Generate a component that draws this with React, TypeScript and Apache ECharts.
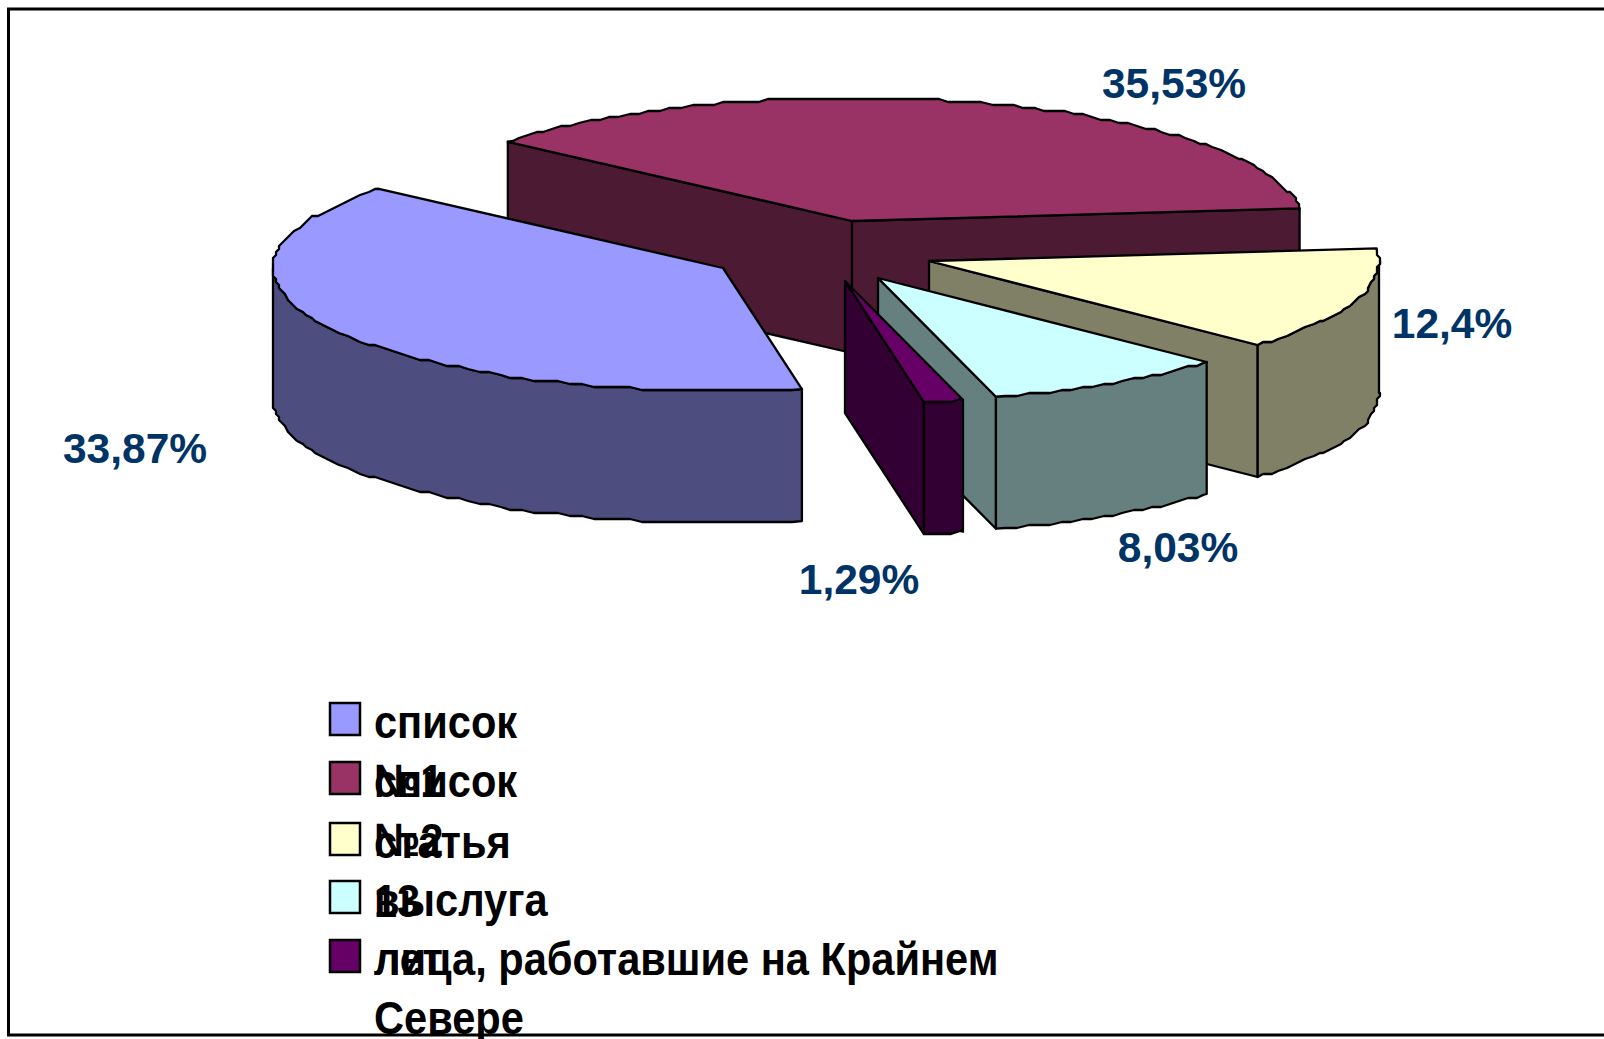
import React, { useEffect, useRef } from "react";
import * as echarts from "echarts";

const categories = ["список №1", "список №2", "статья 13", "выслуга лет", "лица, работавшие на Крайнем Севере"];
const values = [33.87, 35.53, 12.4, 8.03, 1.29];

const topColors = ["#9999FF", "#993366", "#FFFFCC", "#CCFFFF", "#660066"];
const sideColors = ["#4D4D80", "#4D1A33", "#808066", "#668080", "#330033"];
const apexes = [[723, 268], [852, 221], [929, 261], [878, 278], [845, 281]];
const labelAt = [[135, 448], [1174, 83], [1452, 323], [1178, 547], [859, 579]];
const drawRank = [4, 0, 1, 2, 3];
const RX = 450, RY = 123, DEPTH = 132, START = 169.9, GRID = 3, STEP = 1.5;
const total = values.reduce((a, b) => a + b, 0);

const firstBoundary = START + ((values[0] + values[1]) / total) * 360;
const warp = (deg: number) => {
  if (deg <= START || deg >= firstBoundary) return deg;
  return deg + 6.4 * Math.sin((Math.PI * (deg - START)) / (firstBoundary - START));
};
const unwarp = (target: number) => {
  let lo = target - 10, hi = target + 10;
  for (let i = 0; i < 40; i++) {
    const m = (lo + hi) / 2;
    if (warp(m) < target) lo = m;
    else hi = m;
  }
  return (lo + hi) / 2;
};
const pt = (c: number[], deg: number, dy = 0) => {
  const r = (warp(deg) * Math.PI) / 180;
  return [c[0] + RX * Math.sin(r), c[1] - RY * Math.cos(r) + dy];
};
// The reference's curved edges are visibly bumpy, so inner arc points snap to a coarse grid.
// Samples sit on fixed angles, so a slice's top face and its outer wall share their vertices.
const arc = (c: number[], a: number, b: number, dy = 0) => {
  const out: number[][] = [pt(c, a, dy)];
  for (let k = Math.floor(a / STEP) + 1; k * STEP < b; k++) {
    const p = pt(c, k * STEP, dy);
    out.push([Math.round(p[0] / GRID) * GRID, Math.round((p[1] - dy) / GRID) * GRID + dy]);
  }
  out.push(pt(c, b, dy));
  return out;
};

const renderItem = (params: any, api: any) => {
  const i = params.dataIndex;
  const v = api.value(0);
  let a = START;
  for (let k = 0; k < i; k++) a += (values[k] / total) * 360;
  const b = a + (v / total) * 360;
  const c = apexes[i];
  const base = drawRank[i] * 10;
  const stroke = { stroke: "#000", lineWidth: 2.3, lineJoin: "round" };
  const side = { ...stroke, fill: sideColors[i] };
  const children: any[] = [];
  const wall = (deg: number, z: number) => {
    const e = pt(c, deg);
    children.push({
      type: "polygon",
      z2: base + z,
      shape: { points: [c, e, [e[0], e[1] + DEPTH], [c[0], c[1] + DEPTH]] },
      style: side,
    });
  };
  if (Math.sin((a * Math.PI) / 180) < 0) wall(a, 1);
  if (Math.sin((b * Math.PI) / 180) > 0) wall(b, 1);
  for (const [lo, hi] of [[90, 270], [450, 630]]) {
    const s = Math.max(a, unwarp(lo)), e = Math.min(b, unwarp(hi));
    if (s < e) {
      children.push({
        type: "polygon",
        z2: base + 2,
        shape: { points: [...arc(c, s, e), ...arc(c, s, e, DEPTH).reverse()] },
        style: side,
      });
    }
  }
  children.push({
    type: "polygon",
    z2: base + 3,
    shape: { points: [c, ...arc(c, a, b)] },
    style: { ...stroke, fill: topColors[i] },
  });
  children.push({
    type: "text",
    z2: 100,
    x: labelAt[i][0],
    y: labelAt[i][1],
    style: {
      text: String(v).replace(".", ",") + "%",
      font: 'bold 42.5px "Liberation Sans", Arial, sans-serif',
      fill: "#003366",
      textAlign: "center",
      textVerticalAlign: "middle",
    },
  });
  return { type: "group", children };
};

const wrapName = (s: string) => {
  const p = s.lastIndexOf(" ");
  return [s.slice(0, p), s.slice(p + 1)];
};
const swatchY = [703, 762, 823, 881, 940];

const legendGraphics = () => {
  const out: any[] = [
    {
      type: "rect",
      shape: { x: 8.5, y: 9, width: 1700, height: 1026 },
      style: { fill: "none", stroke: "#000", lineWidth: 3 },
      z: 5,
    },
  ];
  categories.forEach((name, i) => {
    out.push({
      type: "rect",
      shape: { x: 330, y: swatchY[i], width: 30, height: 32 },
      style: { fill: topColors[i], stroke: "#000", lineWidth: 2.5 },
      z: 6,
    });
    wrapName(name).forEach((line, j) => {
      out.push({
        type: "text",
        x: 374,
        y: swatchY[i] + 18.5 + j * 59,
        scaleX: 0.885,
        z: 6,
        style: {
          text: line,
          font: 'bold 47px "Liberation Sans", Arial, sans-serif',
          fill: "#000",
          textAlign: "left",
          textVerticalAlign: "middle",
        },
      });
    });
  });
  return out;
};

export default function App() {
  const ref = useRef<HTMLDivElement>(null);
  useEffect(() => {
    document.body.style.margin = "0";
    const chart = echarts.init(ref.current!, undefined, { renderer: "svg" });
    chart.setOption({
      animation: false,
      backgroundColor: "#fff",
      graphic: legendGraphics(),
      series: [
        {
          type: "custom",
          coordinateSystem: "none",
          renderItem,
          data: values.map((v) => [v]),
          silent: true,
        },
      ],
    });
    return () => chart.dispose();
  }, []);
  return <div ref={ref} style={{ width: 1604, height: 1039, overflow: "hidden" }} />;
}
